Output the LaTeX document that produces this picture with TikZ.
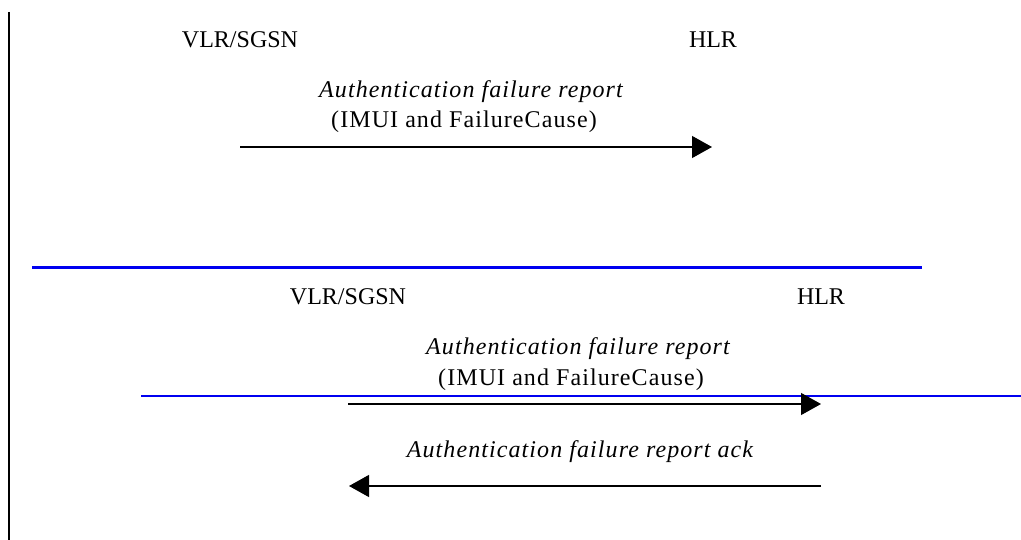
\documentclass[tikz,border=0pt]{standalone}
\usepackage{fontspec}
\setmainfont{Liberation Serif}
\newfontfamily\spaced{Liberation Serif}[LetterSpace=4.5]
\usetikzlibrary{arrows.meta}
\tikzset{
  ent/.style={anchor=base, inner sep=0pt, font=\fontsize{24}{28}\selectfont},
  lbl/.style={anchor=base, inner sep=0pt, font=\fontsize{24}{28}\spaced},
  msg/.style={anchor=base, inner sep=0pt, font=\fontsize{24}{28}\spaced\itshape},
  sig/.style={line width=1.3pt, -{Triangle[length=20pt,width=22pt]}},
  sepline/.style={draw={rgb,255:red,0;green,0;blue,240}, line width=3pt},
  border/.style={line width=2pt}
}
\begin{document}
\begin{tikzpicture}[x=1pt,y=-1pt]
\useasboundingbox (0,0) rectangle (1021,540);
% left border line
\coordinate (vtop) at (9,12);
\coordinate (vbot) at (9,540);
\draw[border] (vtop) -- (vbot);
% first diagram
\node[ent] (v1) at (240,48) {VLR/SGSN};
\node[ent] (h1) at (713,48) {HLR};
\node[msg] (m1a) at (471,98) {Authentication failure report};
\node[lbl] (m1b) at (464,128) {(IMUI and FailureCause)};
\coordinate (a1s) at (240,147);
\coordinate (a1e) at (712,147);
\draw[sig] (a1s) -- (a1e);
% separator lines
\coordinate (b1s) at (32,268);
\coordinate (b1e) at (922,268);
\draw[sepline] (b1s) -- (b1e);
% second diagram
\node[ent] (v2) at (348,305) {VLR/SGSN};
\node[ent] (h2) at (821,305) {HLR};
\node[msg] (m2a) at (578,355) {Authentication failure report};
\node[lbl] (m2b) at (571,385) {(IMUI and FailureCause)};
\coordinate (b2s) at (141,396);
\coordinate (b2e) at (1021,396);
\draw[sepline, line width=2.2pt] (b2s) -- (b2e);
\coordinate (a2s) at (348,404);
\coordinate (a2e) at (821,404);
\draw[sig] (a2s) -- (a2e);
\node[msg] (m3) at (580,457) {Authentication failure report ack};
\coordinate (a3s) at (821,486);
\coordinate (a3e) at (349,486);
\draw[sig] (a3s) -- (a3e);
\end{tikzpicture}
\end{document}
